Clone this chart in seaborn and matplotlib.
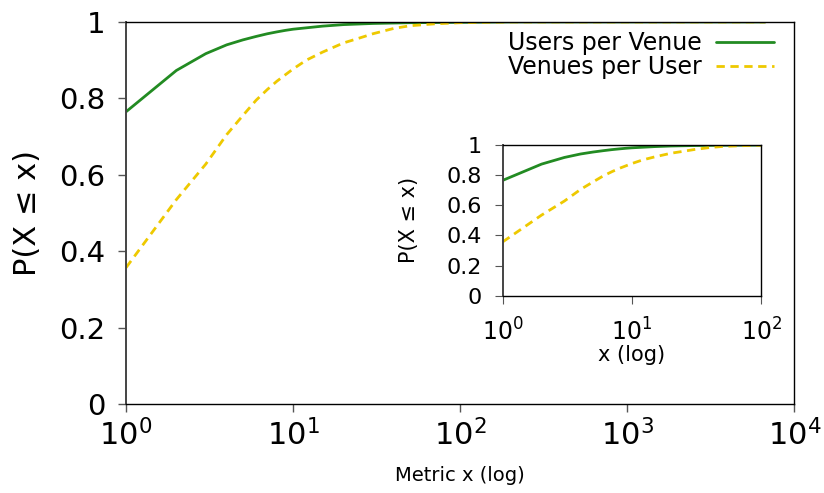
import matplotlib
matplotlib.use("Agg")
import matplotlib.pyplot as plt
import seaborn as sns
import pandas as pd
from matplotlib.ticker import FixedLocator, NullLocator
from matplotlib.lines import Line2D

# Data
upv_x = [1, 2, 3, 4, 5, 6, 7, 8, 9, 10, 15, 20, 30, 50, 100, 200, 500, 1000, 6700]
upv_y = [0.765, 0.873, 0.917, 0.940, 0.953, 0.962, 0.969, 0.974, 0.978, 0.981,
         0.989, 0.993, 0.996, 0.998, 0.999, 1.0, 1.0, 1.0, 1.0]
vpu_x = [1, 2, 3, 4, 5, 6, 7, 8, 9, 10, 12, 15, 20, 25, 30, 40, 50, 70, 100,
         200, 500, 1000, 6700]
vpu_y = [0.357, 0.535, 0.628, 0.705, 0.755, 0.795, 0.823, 0.845, 0.862, 0.877,
         0.900, 0.921, 0.945, 0.958, 0.969, 0.983, 0.990, 0.995, 0.998,
         1.0, 1.0, 1.0, 1.0]
labels = ["Users per Venue", "Venues per User"]
colors = ["#228B22", "#EEC900"]
main_xticks = [1, 10, 100, 1000, 10000]
main_xticklabels = [r"$10^{0}$", r"$10^{1}$", r"$10^{2}$", r"$10^{3}$", r"$10^{4}$"]
inset_xticks = [1, 10, 100]
inset_xticklabels = [r"$10^{0}$", r"$10^{1}$", r"$10^{2}$"]
yticks = [0, 0.2, 0.4, 0.6, 0.8, 1.0]
yticklabels = ["0", "0.2", "0.4", "0.6", "0.8", "1"]

df = pd.concat([
    pd.DataFrame({"x": upv_x, "y": upv_y, "series": labels[0]}),
    pd.DataFrame({"x": vpu_x, "y": vpu_y, "series": labels[1]}),
])

sns.set_style("ticks")
plt.rcParams["font.family"] = ["DejaVu Sans"]
plt.rcParams["text.color"] = "black"
plt.rcParams["axes.labelcolor"] = "black"
plt.rcParams["xtick.color"] = "#555555"
plt.rcParams["ytick.color"] = "#555555"
plt.rcParams["xtick.labelcolor"] = "black"
plt.rcParams["ytick.labelcolor"] = "black"

fig = plt.figure(figsize=(8.24, 4.93), dpi=100)
ax = fig.add_axes([0.153, 0.1805, 0.811, 0.775])


def draw(a):
    sns.lineplot(data=df, x="x", y="y", hue="series", style="series",
                 palette=colors, dashes=[(None, None), (3, 2)],
                 linewidth=2, ax=a, legend=False, estimator=None, sort=False)
    a.set_xscale("log")
    for s in a.spines.values():
        s.set_visible(True)
        s.set_color("black")
        s.set_linewidth(1)
    a.spines["left"].set_color("#444444")
    a.spines["left"].set_linewidth(1.4)
    a.xaxis.set_minor_locator(NullLocator())
    a.set_yticks(yticks)
    a.set_yticklabels(yticklabels)
    a.set_ylim(0, 1)


draw(ax)
ax.set_xlim(1, 1e4)
ax.xaxis.set_major_locator(FixedLocator(main_xticks))
ax.set_xticklabels(main_xticklabels)
ax.tick_params(axis="x", labelsize=22, length=6, width=1, pad=5)
ax.tick_params(axis="y", labelsize=21, length=6, width=1, pad=9)
ax.set_xlabel("Metric x (log)", fontsize=14, labelpad=10)
ax.set_ylabel("P(X ≤ x)", fontsize=22, labelpad=12)

handles = [Line2D([], [], color=colors[0], lw=2),
           Line2D([], [], color=colors[1], lw=2, dashes=(3, 2))]
ax.legend(handles, labels, loc="upper right", frameon=False, fontsize=17,
          markerfirst=False, handlelength=2.45, handletextpad=0.6,
          borderaxespad=0, borderpad=0, labelspacing=0.0,
          bbox_to_anchor=(0.969, 0.975))

ins = fig.add_axes([0.610, 0.400, 0.314, 0.306])
draw(ins)
ins.set_xlim(1, 100)
ins.xaxis.set_major_locator(FixedLocator(inset_xticks))
ins.set_xticklabels(inset_xticklabels)
ins.tick_params(axis="x", labelsize=17, length=6, pad=10)
ins.tick_params(axis="y", labelsize=16, length=6, pad=9)
ins.set_xlabel("x (log)", fontsize=15, labelpad=0)
ins.set_ylabel("P(X ≤ x)", fontsize=15, labelpad=20)

fig.savefig("out.png", dpi=100)
